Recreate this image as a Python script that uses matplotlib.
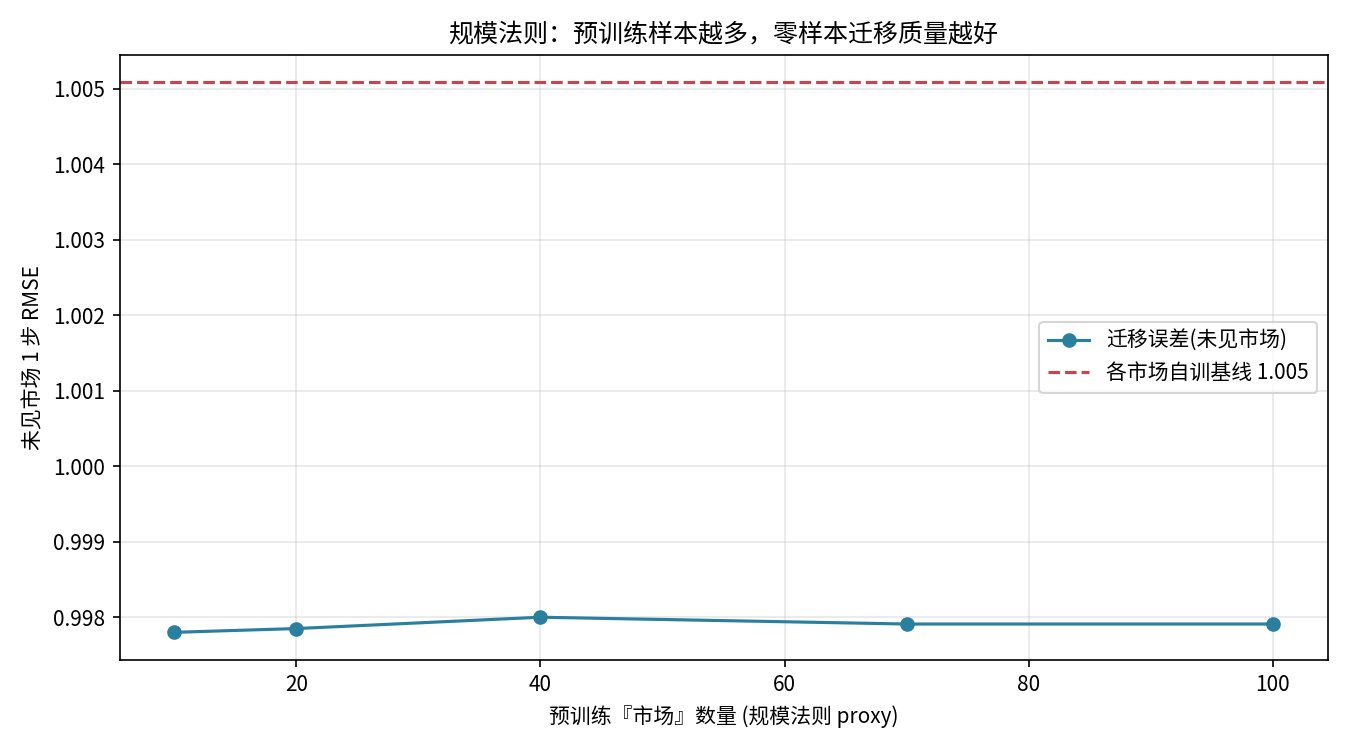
import matplotlib
matplotlib.use('Agg')
import matplotlib.pyplot as plt

plt.rcParams['font.family'] = ['Noto Sans CJK SC', 'DejaVu Sans']
plt.rcParams['axes.unicode_minus'] = False

n_markets = [10, 20, 40, 70, 100]
rmse = [0.99780, 0.99785, 0.99800, 0.99791, 0.99791]
baseline = 1.00508

fig, ax = plt.subplots(figsize=(9, 5), dpi=150)
ax.plot(n_markets, rmse, marker='o', color='#2a7f9e', linewidth=1.5, markersize=6,
        label='迁移误差(未见市场)')
ax.axhline(baseline, color='#c8444f', linestyle='--', linewidth=1.5,
           label=f'各市场自训基线 {baseline:.3f}')
ax.set_xlabel('预训练『市场』数量 (规模法则 proxy)')
ax.set_ylabel('未见市场 1 步 RMSE')
ax.set_title('规模法则：预训练样本越多，零样本迁移质量越好')
ax.grid(True, alpha=0.3)
ax.legend(loc='center right')
fig.tight_layout()
fig.savefig('out.png', dpi=150)
